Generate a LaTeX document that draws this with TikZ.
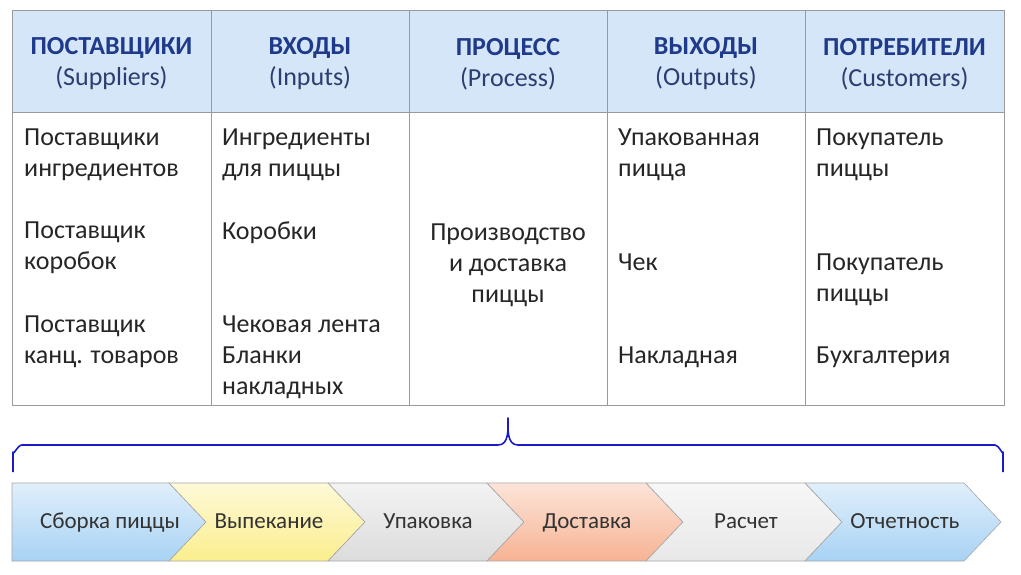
\documentclass[tikz,border=0pt]{standalone}
\usepackage{fontspec}
\setmainfont{Carlito}
\definecolor{headfill}{HTML}{D5E6F9}
\definecolor{headtext}{HTML}{1F3A8A}
\definecolor{subtext}{HTML}{2C3E70}
\definecolor{gridline}{HTML}{9A9A9A}
\definecolor{bracecol}{HTML}{1A1AC8}
\definecolor{chevA}{HTML}{A8D2F4}
\definecolor{chevB}{HTML}{FBEE8E}
\definecolor{chevC}{HTML}{DCDCDC}
\definecolor{chevD}{HTML}{F7B393}
\definecolor{chevE}{HTML}{E8E8E8}
\begin{document}
\begin{tikzpicture}[x=1pt,y=-1pt,font=\fontsize{26}{31}\selectfont]
\useasboundingbox (0,0) rectangle (1021,575);

\tikzset{HeadStyle/.style = {align=center, text=subtext, inner sep=0pt} }
\tikzset{CellStyle/.style = {align=left, anchor=north west, inner sep=0pt, text=black!85} }

% table
\fill[headfill] (12,10) rectangle (1004,112);
\draw[gridline, thick] (12,10) rectangle (1004,405);
\draw[gridline, thick] (12,112) -- (1004,112);
\foreach \x in {211,409,607,805}
  \draw[gridline, thick] (\x,10) -- (\x,405);

\node[HeadStyle] (H1) at (111.5,64) {\textcolor{headtext}{\textbf{ПОСТАВЩИКИ}}\\(Suppliers)};
\node[HeadStyle] (H2) at (310,64) {\textcolor{headtext}{\textbf{ВХОДЫ}}\\(Inputs)};
\node[HeadStyle] (H3) at (508,64) {\textcolor{headtext}{\textbf{ПРОЦЕСС}}\\(Process)};
\node[HeadStyle] (H4) at (706,64) {\textcolor{headtext}{\textbf{ВЫХОДЫ}}\\(Outputs)};
\node[HeadStyle] (H5) at (904.5,64) {\textcolor{headtext}{\textbf{ПОТРЕБИТЕЛИ}}\\(Customers)};

\node[CellStyle] (S1) at (24,129) {Поставщики\\ингредиентов};
\node[CellStyle] (S2) at (24,222) {Поставщик\\коробок};
\node[CellStyle] (S3) at (24,316) {Поставщик\\канц. товаров};
\node[CellStyle] (I1) at (222,129) {Ингредиенты\\для пиццы};
\node[CellStyle] (I2) at (222,222) {Коробки};
\node[CellStyle] (I3) at (222,316) {Чековая лента\\Бланки\\накладных};
\node[align=center, inner sep=0pt, text=black!85] (P1) at (508,265) {Производство\\и доставка\\пиццы};
\node[CellStyle] (O1) at (618,129) {Упакованная\\пицца};
\node[CellStyle] (O2) at (618,254) {Чек};
\node[CellStyle] (O3) at (618,347) {Накладная};
\node[CellStyle] (C1) at (816,129) {Покупатель\\пиццы};
\node[CellStyle] (C2) at (816,254) {Покупатель\\пиццы};
\node[CellStyle] (C3) at (816,347) {Бухгалтерия};

% brace
\draw[bracecol, line width=1.6pt, line join=round]
  (13,472) -- (13,452) to[out=-90,in=180] (22,445) -- (498,445)
  to[out=0,in=-90] (508,418) to[out=-90,in=180] (518,445) -- (995,445)
  to[out=0,in=-90] (1003,452) -- (1003,472);

% chevrons
\tikzset{ChevStyle/.style = {draw=gray!70, line width=0.6pt} }
\foreach \i/\c/\t in {0/chevA/Сборка пиццы, 1/chevB/Выпекание, 2/chevC/Упаковка,
                      3/chevD/Доставка, 4/chevE/Расчет, 5/chevA/Отчетность} {
  \pgfmathsetmacro{\xa}{12+159*\i}
  \pgfmathsetmacro{\xb}{\xa+159}
  \ifnum\i=0
    \shade[ChevStyle, top color=\c!35, bottom color=\c]
      (\xa,483) -- (\xb-2,483) -- (\xb+35,522) -- (\xb-2,561) -- (\xa,561) -- cycle;
  \else
    \shade[ChevStyle, top color=\c!35, bottom color=\c]
      (\xa-2,483) -- (\xb-2,483) -- (\xb+35,522) -- (\xb-2,561) -- (\xa-2,561) -- (\xa+35,522) -- cycle;
  \fi
  \node[font=\fontsize{23}{26}\selectfont, text=black!80, text height=16pt, text depth=5pt,
        inner sep=0pt] (K\i) at (\xa+98,523) {\t};
}
\end{tikzpicture}
\end{document}
